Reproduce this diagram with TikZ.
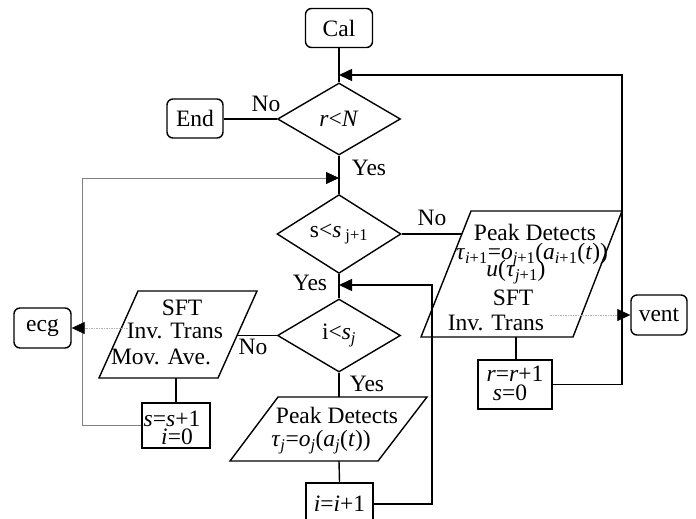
\documentclass[tikz,border=0pt]{standalone}
\usepackage{fontspec}
\setmainfont{Liberation Serif}
\usetikzlibrary{shapes.geometric,arrows.meta}
\newcommand{\vi}[1]{\textit{#1}}
\newcommand{\sbs}[1]{\textsubscript{#1}}
\begin{document}
\begin{tikzpicture}[x=1pt,y=-1pt,font=\fontsize{23.5}{26}\selectfont,
  term/.style={draw,line width=1.4pt,rounded corners=6pt,minimum height=39pt,inner sep=0pt},
  dec/.style={draw,diamond,line width=1.4pt,minimum width=123pt,minimum height=73pt,inner sep=0pt},
  proc/.style={draw,line width=2.5pt,inner sep=0pt},
  ln/.style={line width=1.4pt},
  gl/.style={line width=0.8pt,gray},
  dl/.style={line width=0.6pt,gray!60,dash pattern=on 1.5pt off 1pt},
  arr/.style={-{Triangle[length=13pt,width=12pt,color=black]}},
  txt/.style={inner sep=0pt}]
\path[use as bounding box] (0,0) rectangle (696,519);
\clip (0,0) rectangle (696,519);
% terminals
\node[term,minimum width=67pt] (cal) at (339,28) {Cal};
\node[term,minimum width=56pt] (end) at (195,118.5) {End};
\node[term,minimum width=57pt,minimum height=40pt] (ecg) at (42.5,328) {ecg};
\node[term,minimum width=56pt,minimum height=40pt] (vent) at (659,315) {vent};
% decisions
\node[dec,minimum height=72pt] (dr) at (339,119) {\vi{r}<\vi{N}};
\node[dec,minimum width=124pt,minimum height=74pt] (ds) at (339,234) {s<\vi{s}\,\sbs{j+1}};
\node[dec] (di) at (339,335.5) {i<\vi{s}\sbs{\vi{j}}};
% parallelograms
\draw[ln] (471,211) -- (622,211) -- (573,337) -- (421,337) -- cycle;
\coordinate (pbL) at (462,234);
\coordinate (pbB) at (516,337);
\node[txt] (pb1) at (535,232) {Peak Detects};
\node[txt] (pb2) at (532,255) {\vi{τ}\sbs{\vi{i}+1}=\vi{o}\sbs{\vi{j}+1}(\vi{a}\sbs{\vi{i}+1}(\vi{t}))};
\node[txt] (pb3) at (516,272) {\vi{u}(\vi{τ}\sbs{\vi{j}+1})};
\node[txt] (pb4) at (513,298) {SFT};
\node[txt] (pb5) at (496,323) {Inv. Trans};

\draw[ln] (138,291) -- (257,291) -- (218,378) -- (99,378) -- cycle;
\coordinate (plR) at (237,335.5);
\coordinate (plB) at (176,378);
\node[txt] (pl1) at (182,308) {SFT};
\node[txt] (pl2) at (175,331) {Inv. Trans};
\node[txt] (pl3) at (161,357) {Mov. Ave.};

\draw[ln] (278,397) -- (427,397) -- (378,461) -- (230,461) -- cycle;
\coordinate (pdT) at (339,397);
\coordinate (pdB) at (339,461);
\node[txt] (pd1) at (337,415) {Peak Detects};
\node[txt] (pd2) at (321,442) {\vi{τ}\sbs{\vi{j}}=\vi{o}\sbs{\vi{j}}(\vi{a}\sbs{\vi{j}}(\vi{t}))};
% process boxes
\node[proc,minimum width=74pt,minimum height=49pt] (rb) at (515,384.5) {};
\node[txt] (rb1) at (515,374) {\vi{r}=\vi{r}+1};
\node[txt] (rb2) at (510,393) {\vi{s}=0};
\node[proc,minimum width=68pt,minimum height=45pt] (sb) at (176,425.5) {};
\node[txt] (sb1) at (172,419) {\vi{s}=\vi{s}+1};
\node[txt] (sb2) at (177,437) {\vi{i}=0};
\node[proc,minimum width=67pt,minimum height=48pt] (ib) at (339.5,507) {};
\node[txt] (ib1) at (339.5,503.5) {\vi{i}=\vi{i}+1};
% connectors
\draw[ln] (cal.south) -- (dr.north);
\coordinate (rtop) at (622,75);
\coordinate (m1) at (339,75);
\draw[ln,arr] (rb.east) -| (rtop) -- (m1);
\draw[ln] (dr.west) -- (dr.west -| end.east);
\node[txt] (no1) at (266,104) {No};
\draw[ln] (dr.south) -- (ds.north);
\node[txt] (yes1) at (369,168) {Yes};
\coordinate (g1) at (82,178);
\coordinate (m2) at (339,178);
\draw[gl,arr] (sb.west) -| (g1) -- (m2);
\draw[ln] (ds.east) -- (pbL);
\node[txt] (no2) at (432,218) {No};
\draw[ln] (pbB) -- (pbB |- rb.north);
\coordinate (vs) at (550,315);
\draw[dl,arr] (vs) -- (vent.west);
\draw[ln] (ds.south) -- (di.north);
\node[txt] (yes2) at (310,283) {Yes};
\coordinate (ilb) at (432,504);
\coordinate (ilp) at (432,285);
\coordinate (m3) at (339,285);
\draw[ln,arr] (ib.east |- ilb) -- (ilb) -- (ilp) -- (m3);
\draw[ln] (di.west) -- (plR);
\node[txt] (no3) at (253,347) {No};
\draw[ln] (plB) -- (sb.north);
\coordinate (es) at (130,328);
\draw[dl,arr] (es) -- (ecg.east);
\draw[ln] (di.south) -- (pdT);
\node[txt] (yes3) at (367,384) {Yes};
\draw[ln] (pdB) -- (ib.north);
\end{tikzpicture}
\end{document}
